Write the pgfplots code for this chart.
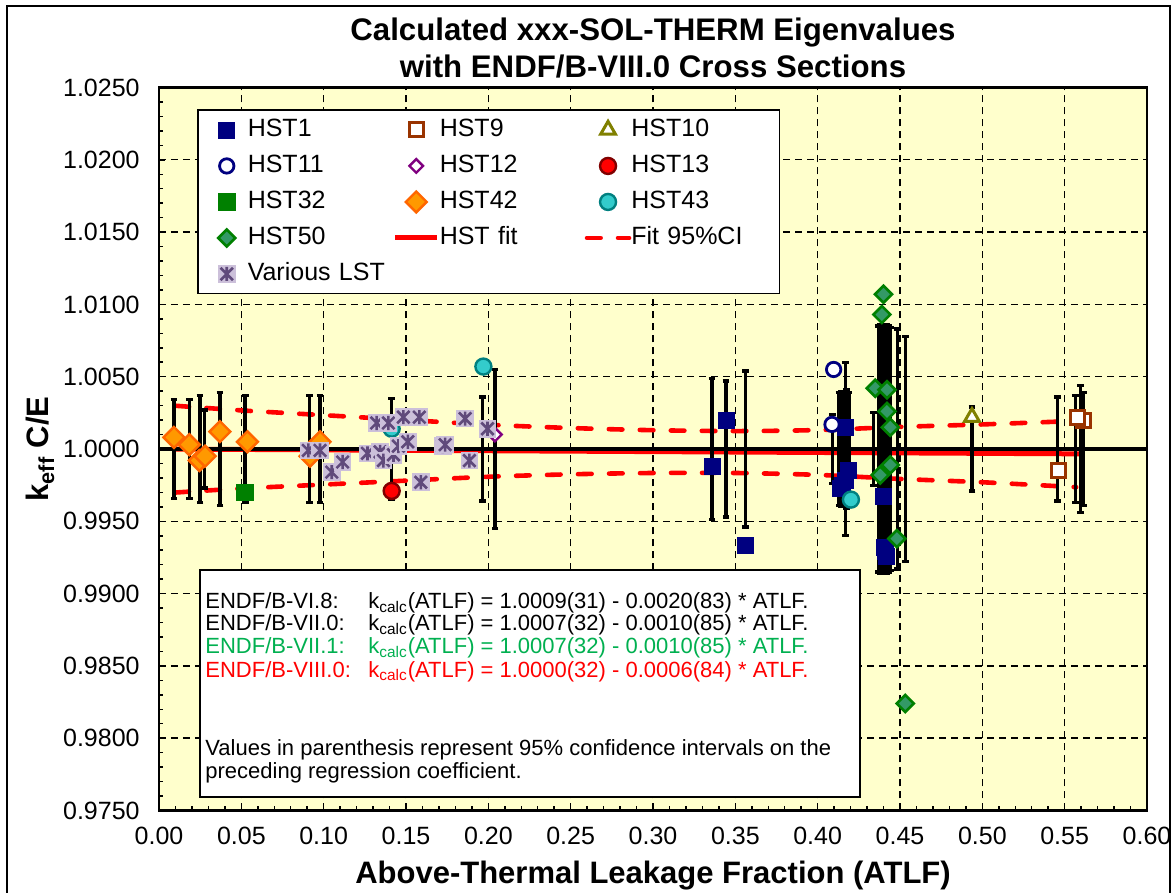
\documentclass[border=0pt]{standalone}
\usepackage{pgfplots}
\pgfplotsset{compat=1.18}
\usepackage{fontspec}
\setmainfont{Liberation Sans}
\definecolor{bgyellow}{HTML}{FFFFCC}
\definecolor{navyc}{HTML}{000080}
\definecolor{brownc}{HTML}{993300}
\definecolor{olivec}{HTML}{808000}
\definecolor{purplec}{HTML}{800080}
\definecolor{darkredc}{HTML}{800000}
\definecolor{greenc}{HTML}{008000}
\definecolor{orangefill}{HTML}{FF9900}
\definecolor{orangeedge}{HTML}{FF6600}
\definecolor{tealfill}{HTML}{33CCCC}
\definecolor{tealedge}{HTML}{008080}
\definecolor{greenfill}{HTML}{339966}
\definecolor{lstbg}{HTML}{CCC0DA}
\definecolor{lstfg}{HTML}{604A7B}
\definecolor{txtgreen}{HTML}{00B050}
\definecolor{fitred}{HTML}{FF0000}

\pgfdeclareplotmark{lststar}{%
  \pgfsetfillcolor{lstbg}%
  \pgfpathrectangle{\pgfqpoint{-\pgfplotmarksize}{-\pgfplotmarksize}}{\pgfqpoint{2\pgfplotmarksize}{2\pgfplotmarksize}}%
  \pgfusepathqfill
  \pgfsetstrokecolor{lstfg}%
  \pgfsetlinewidth{1.3bp}%
  \pgfpathmoveto{\pgfqpoint{0pt}{-0.8\pgfplotmarksize}}%
  \pgfpathlineto{\pgfqpoint{0pt}{0.8\pgfplotmarksize}}%
  \pgfpathmoveto{\pgfqpoint{-0.7\pgfplotmarksize}{-0.7\pgfplotmarksize}}%
  \pgfpathlineto{\pgfqpoint{0.7\pgfplotmarksize}{0.7\pgfplotmarksize}}%
  \pgfpathmoveto{\pgfqpoint{-0.7\pgfplotmarksize}{0.7\pgfplotmarksize}}%
  \pgfpathlineto{\pgfqpoint{0.7\pgfplotmarksize}{-0.7\pgfplotmarksize}}%
  \pgfusepathqstroke
}

\pgfplotsset{
  mk/.style={only marks,
    legend image code/.code={\path[draw=none,fill=none] (0bp,0bp) (21bp,0bp); \draw[##1] plot coordinates {(10.5bp,0bp)};}},
}

\begin{document}
\begin{tikzpicture}
\useasboundingbox (-79.5bp,-41.25bp) rectangle (508.5bp,405.25bp);
\draw[black, line width=1bp] (-76bp,-60bp) rectangle (505.5bp,402bp);
\begin{axis}[
  at={(0,0)}, anchor=south west,
  scale only axis, width=494bp, height=361.5bp,
  xmin=0, xmax=0.6, ymin=0.975, ymax=1.025,
  xtick={0,0.05,0.1,0.15,0.2,0.25,0.3,0.35,0.4,0.45,0.5,0.55,0.6},
  ytick={0.975,0.98,0.985,0.99,0.995,1,1.005,1.01,1.015,1.02,1.025},
  minor x tick num=4, minor y tick num=4,
  axis background/.style={fill=bgyellow},
  axis line style={line width=1.25bp, black},
  tick align=inside, xtick pos=left, ytick pos=left,
  major tick length=3bp, minor tick length=2.2bp,
  tick style={black, line width=0.75bp},
  xmajorgrids, ymajorgrids,
  major grid style={black, line width=0.7bp, dash pattern=on 3.5bp off 2.5bp},
  scaled ticks=false,
  /pgf/number format/assume math mode=true,
  xticklabel style={/pgf/number format/.cd, fixed, fixed zerofill, precision=2, /tikz/.cd,
    font=\fontsize{12.5bp}{15bp}\selectfont, inner sep=0pt, anchor=north, yshift=-8bp},
  yticklabel style={/pgf/number format/.cd, fixed, fixed zerofill, precision=4, /tikz/.cd,
    font=\fontsize{12.5bp}{15bp}\selectfont, inner sep=0pt, anchor=east, xshift=-9.5bp},
  xlabel={Above-Thermal Leakage Fraction (ATLF)},
  xlabel style={at={(axis description cs:0.5,-0.0906)}, anchor=center,
    font=\bfseries\fontsize{15.5bp}{18bp}\selectfont},
  ylabel={k\textsubscript{eff} C/E},
  ylabel style={at={(axis description cs:-0.1204,0.5)}, anchor=center,
    font=\bfseries\fontsize{15.5bp}{18bp}\selectfont},
  title={Calculated xxx-SOL-THERM Eigenvalues\\with ENDF/B-VIII.0 Cross Sections},
  title style={at={(axis description cs:0.5,1.0387)}, anchor=center, align=center,
    font=\bfseries\fontsize{15.6bp}{18.5bp}\selectfont},
  legend columns=3,
  legend cell align=left,
  legend style={at={(axis description cs:0.03846,0.96957)}, anchor=north west,
    draw=black, line width=0.75bp, fill=white, inner xsep=4bp, inner ysep=4bp,
    font=\fontsize{12.5bp}{15bp}\selectfont, row sep=6.3bp,
    nodes={text width=70bp, align=left, inner xsep=0pt, inner ysep=0pt, text height=9bp, text depth=2.7bp},
    /tikz/every even column/.append style={column sep=2.5bp}},
  legend image code/.code={\draw[mark repeat=2,mark phase=2,#1] plot coordinates {(0bp,0bp) (10.5bp,0bp) (21bp,0bp)};},
]

% 95% confidence band of the fit
\addplot[fitred, line width=2.3bp, line cap=round, dash pattern=on 6.8bp off 8.7bp, smooth, forget plot] coordinates {
 (0.01,1.00299) (0.05,1.00267) (0.10,1.00234) (0.15,1.00201) (0.20,1.00168) (0.25,1.00145)
 (0.30,1.00130) (0.35,1.00124) (0.40,1.00131) (0.45,1.00153) (0.50,1.00170) (0.557,1.00194)};
\addplot[fitred, line width=2.3bp, line cap=round, dash pattern=on 6.8bp off 8.7bp, smooth, forget plot] coordinates {
 (0.01,0.99699) (0.05,0.99727) (0.10,0.99754) (0.15,0.99781) (0.20,0.99808) (0.25,0.99825)
 (0.30,0.99834) (0.35,0.99834) (0.40,0.99821) (0.45,0.99793) (0.50,0.99770) (0.557,0.99736)};
% HST fit
\addplot[fitred, line width=2.5bp, forget plot] coordinates {(0.0085,0.999995) (0.562,0.999663)};

% experimental uncertainties (centred on 1); the joining line lies under the reference line
\addplot[black, line width=1bp, mark=none, forget plot,
  error bars/.cd, y dir=both, y explicit, error mark=-,
  error bar style={black, solid, line width=1.7bp},
  error mark options={black, solid, line width=1.6bp, mark size=1.7bp, rotate=90}]
coordinates {
 (0.0091,1) +- (0,0.0034) (0.0184,1) +- (0,0.0034) (0.0249,1) +- (0,0.0037)
 (0.0275,1) +- (0,0.0027) (0.0370,1) +- (0,0.0039) (0.0523,1) +- (0,0.0037)
 (0.0913,1) +- (0,0.0037) (0.0978,1) +- (0,0.0037) (0.1413,1) +- (0,0.0035)
 (0.1965,1) +- (0,0.0036) (0.2040,1) +- (0,0.0055)
 (0.3358,1) +- (0,0.0049) (0.3443,1) +- (0,0.0047) (0.3562,1) +- (0,0.0054)
 (0.4090,1) +- (0,0.0024) (0.4130,1) +- (0,0.0039) (0.4145,1) +- (0,0.0040)
 (0.4160,1) +- (0,0.0039) (0.4168,1) +- (0,0.0060)
 (0.4175,1) +- (0,0.0041) (0.4190,1) +- (0,0.0039)
 (0.4340,1) +- (0,0.0025)
 (0.4368,1) +- (0,0.0085) (0.4378,1) +- (0,0.0086) (0.4388,1) +- (0,0.0085)
 (0.4398,1) +- (0,0.0086) (0.4408,1) +- (0,0.0085) (0.4418,1) +- (0,0.0086)
 (0.4428,1) +- (0,0.0085) (0.4441,1) +- (0,0.0084) (0.4484,1) +- (0,0.0083)
 (0.4532,1) +- (0,0.0078)
 (0.4937,1) +- (0,0.0029)
 (0.5455,1) +- (0,0.0036) (0.5565,1) +- (0,0.0037) (0.5595,1) +- (0,0.0044)
 (0.5612,1) +- (0,0.0039)
};
% reference line
\addplot[black, line width=2bp, forget plot] coordinates {(0,1) (0.6,1)};

% HST1
\addplot[mk, mark=square*, mark size=4bp, mark options={fill=navyc, draw=navyc, line width=0.4bp}]
coordinates {(0.3362,0.9988) (0.3445,1.0020) (0.3562,0.9933) (0.4168,1.0015) (0.4186,0.9985)
 (0.4168,0.9978) (0.4150,0.9975) (0.4138,0.9973) (0.4399,0.9967) (0.4405,0.9932) (0.4412,0.9929) (0.4420,0.9926)};
\addlegendentry{HST1}
% HST9
\addplot[mk, mark=square*, mark size=3.5bp, mark options={fill=white, draw=brownc, line width=1.5bp}]
coordinates {(0.5464,0.9985) (0.5612,1.0020) (0.5580,1.0022)};
\addlegendentry{HST9}
% HST10
\addplot[mk, mark=triangle*, mark size=4.3bp, mark options={fill=white, draw=olivec, line width=1.5bp}]
coordinates {(0.4937,1.0022)};
\addlegendentry{HST10}
% HST11
\addplot[mk, mark=*, mark size=3.6bp, mark options={fill=white, draw=navyc, line width=1.4bp}]
coordinates {(0.4097,1.0055) (0.4087,1.0017)};
\addlegendentry{HST11}
% HST12
\addplot[mk, mark=square*, mark size=2.4bp, mark options={rotate=45, fill=white, draw=purplec, line width=1.2bp}]
coordinates {(0.2040,1.0010)};
\addlegendentry{HST12}
% HST13
\addplot[mk, mark=*, mark size=4bp, mark options={fill=red, draw=darkredc, line width=1.2bp}]
coordinates {(0.1413,0.9971)};
\addlegendentry{HST13}
% HST32
\addplot[mk, mark=square*, mark size=4.2bp, mark options={fill=greenc, draw=greenc, line width=0.4bp}]
coordinates {(0.0523,0.9970)};
\addlegendentry{HST32}
% HST42
\addplot[mk, mark=square*, mark size=3.7bp, mark options={rotate=45, fill=orangefill, draw=orangeedge, line width=1.2bp}]
coordinates {(0.0091,1.0008) (0.0184,1.0003) (0.0245,0.9992) (0.0280,0.9995) (0.0370,1.0012)
 (0.0537,1.0005) (0.0917,0.9995) (0.0978,1.0005)};
\addlegendentry{HST42}
% HST43
\addplot[mk, mark=*, mark size=4bp, mark options={fill=tealfill, draw=tealedge, line width=1.2bp}]
coordinates {(0.1413,1.0014) (0.1970,1.0057) (0.4202,0.9965)};
\addlegendentry{HST43}
% HST50
\addplot[mk, mark=square*, mark size=3bp, mark options={rotate=45, fill=greenfill, draw=greenc, line width=1.3bp}]
coordinates {(0.4400,1.0107) (0.4390,1.0093) (0.4350,1.0042) (0.4421,1.0041) (0.4421,1.0026)
 (0.4441,1.0015) (0.4441,0.9989) (0.4380,0.9982) (0.4481,0.9938) (0.4532,0.9824)};
\addlegendentry{HST50}
\addlegendimage{fitred, line width=2.5bp, mark=none}
\addlegendentry{HST fit}
\addlegendimage{fitred, line width=2.3bp, line cap=round, dash pattern=on 6.8bp off 8.7bp, mark=none}
\addlegendentry{Fit 95\%CI}
% Various LST
\addplot[mk, mark=lststar, mark size=4.4bp]
coordinates {(0.0907,0.9999) (0.0978,0.9999) (0.1049,0.9984) (0.1115,0.9991) (0.1266,0.9997)
 (0.1322,1.0018) (0.1343,0.9998) (0.1363,0.9992) (0.1393,1.0018) (0.1424,0.9996)
 (0.1454,1.0002) (0.1484,1.0022) (0.1511,1.0005) (0.1581,1.0022) (0.1590,0.9977)
 (0.1723,1.0002) (0.1738,1.0003) (0.1859,1.0021) (0.1885,0.9992) (0.1995,1.0014)};
\addlegendentry{Various LST}

% regression text box
\draw[black, line width=0.75bp, fill=white] (axis description cs:0.0415,0.0187) rectangle (axis description cs:0.7095,0.3326);
\begin{scope}[every node/.style={font=\fontsize{11bp}{13bp}\selectfont, anchor=base west, inner sep=0pt}]
\node at (axis description cs:0.04656,0.2787) {ENDF/B-VI.8:};
\node at (axis description cs:0.21154,0.2787) {k\textsubscript{calc}(ATLF) = 1.0009(31) - 0.0020(83) * ATLF.};
\node at (axis description cs:0.04656,0.2483) {ENDF/B-VII.0:};
\node at (axis description cs:0.21154,0.2483) {k\textsubscript{calc}(ATLF) = 1.0007(32) - 0.0010(85) * ATLF.};
\node[text=txtgreen] at (axis description cs:0.04656,0.2165) {ENDF/B-VII.1:};
\node[text=txtgreen] at (axis description cs:0.21154,0.2165) {k\textsubscript{calc}(ATLF) = 1.0007(32) - 0.0010(85) * ATLF.};
\node[text=red] at (axis description cs:0.04656,0.1846) {ENDF/B-VIII.0:};
\node[text=red] at (axis description cs:0.21154,0.1846) {k\textsubscript{calc}(ATLF) = 1.0000(32) - 0.0006(84) * ATLF.};
\node at (axis description cs:0.04656,0.0754) {Values in parenthesis represent 95\% confidence intervals on the};
\node at (axis description cs:0.04656,0.0436) {preceding regression coefficient.};
\end{scope}
\end{axis}
\end{tikzpicture}
\end{document}
